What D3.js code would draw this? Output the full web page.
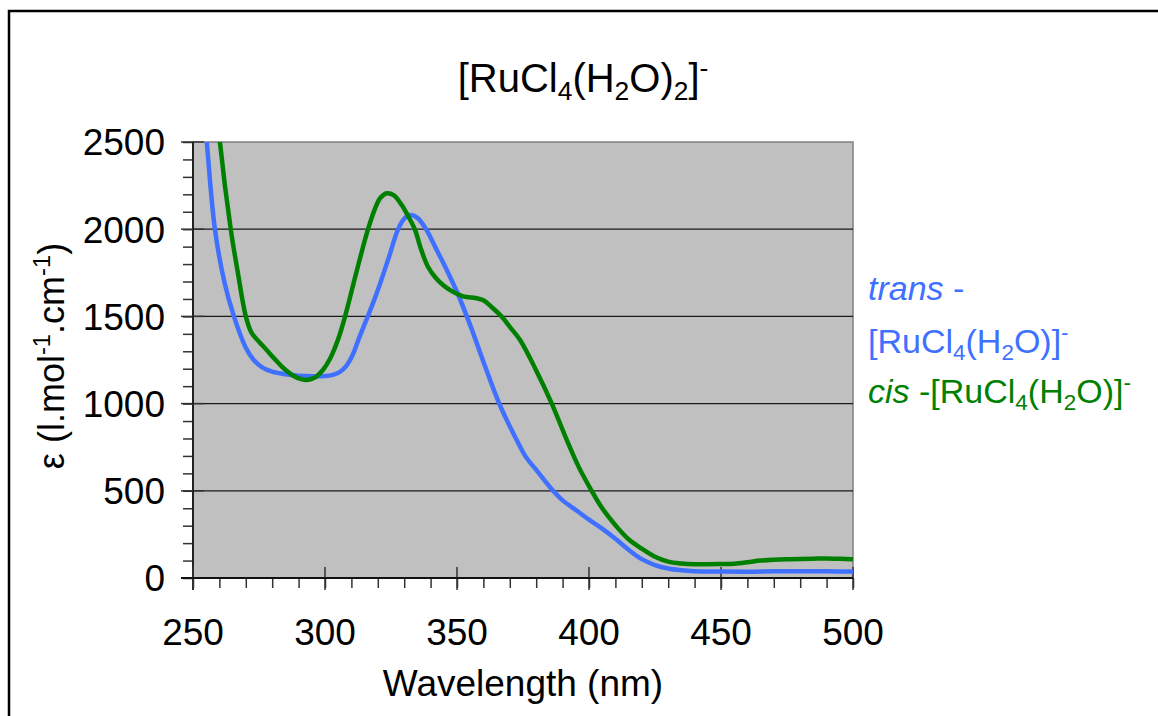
<!DOCTYPE html>
<html>
<head>
<meta charset="utf-8">
<script src="https://cdn.jsdelivr.net/npm/d3@7"></script>
<style>
  html, body { margin: 0; padding: 0; background: #fff; }
  svg { display: block; }
  text { font-family: Arial, "Liberation Sans", sans-serif; }
</style>
</head>
<body>
<svg id="chart" width="1158" height="716"></svg>
<script>
//////////
// DATA //
//////////
var transWl  = [253, 255.2, 258.3, 262, 265.5, 270, 273, 276.5, 280, 285, 290, 295, 300, 303, 305.5, 308, 310.5, 313, 317, 320, 324, 327.7, 330, 332.2, 335, 338.3, 342, 346, 350, 355, 360, 366, 372.6, 376, 380, 386.4, 390, 395, 400, 405, 410, 415, 420, 425, 430, 435, 440, 450, 460, 470, 480, 490, 500];
var transEps = [2850, 2500, 2000, 1690, 1500, 1320, 1250, 1205, 1183, 1168, 1160, 1157, 1158, 1165, 1180, 1215, 1280, 1380, 1530, 1650, 1830, 2000, 2060, 2081, 2065, 2000, 1890, 1770, 1640, 1450, 1240, 1000, 791, 696, 620, 500, 445, 390, 335, 283, 225, 162, 108, 74, 54, 44, 39, 37, 36, 38, 39, 38, 37];

var cisWl  = [258, 260.2, 264.3, 267, 270, 272.2, 275, 277.9, 281, 284.2, 288, 291, 293, 296, 299.2, 302, 305, 307.6, 312, 316.3, 319, 321, 323.4, 326, 329, 331.5, 334, 336.5, 339, 342, 344.7, 348, 352.3, 357.4, 360, 363, 366.9, 370, 373.9, 380, 385.9, 391.6, 396, 401, 405, 410.5, 415, 420, 425, 430, 435, 440, 450, 455, 460, 465, 470, 476, 485, 490, 495, 500];
var cisEps = [2900, 2500, 2000, 1750, 1500, 1405, 1355, 1307, 1255, 1204, 1160, 1140, 1135, 1148, 1193, 1260, 1370, 1500, 1760, 2000, 2120, 2180, 2206, 2195, 2140, 2075, 2000, 1880, 1785, 1720, 1680, 1645, 1615, 1604, 1592, 1555, 1500, 1440, 1365, 1190, 1000, 791, 640, 500, 400, 294, 222, 168, 122, 94, 83, 79, 80, 82, 90, 100, 105, 108, 111, 112, 110, 107];

var xTicks = [250, 300, 350, 400, 450, 500];
var yTicks = [0, 500, 1000, 1500, 2000, 2500];

/////////////////
// "CONSTANTS" //
/////////////////
var PLOT_LEFT = 193;
var PLOT_RIGHT = 853;
var PLOT_TOP = 142;
var PLOT_BOTTOM = 578;
var PLOT_FILL = "#c0c0c0";
var COLOR_TRANS = "#4070ff";
var COLOR_CIS = "#008000";
var LINE_WIDTH = 4.5;
var TICK_FONT = 37;
var LEGEND_FONT = 34;

var svg = d3.select("#chart");

var x = d3.scaleLinear().domain([250, 500]).range([PLOT_LEFT, PLOT_RIGHT]);
var y = d3.scaleLinear().domain([0, 2500]).range([PLOT_BOTTOM, PLOT_TOP]);

// writes pieces of text with sub/superscripts into a text node
var rich = function(textSel, parts, size) {
	var prevBack = 0;
	parts.forEach(function(p) {
		var ts = textSel.append("tspan").text(p.t);
		var dy = 0;
		if (p.i) ts.attr("font-style", "italic");
		if (p.s == "sub") dy = size * 0.2;
		if (p.s == "sup") dy = -size * 0.38;
		if (p.s) ts.attr("font-size", size * 0.66);
		// shifted pieces need the next one moved back to the baseline
		ts.attr("dy", dy + prevBack);
		prevBack = -dy;
	});
};

////////////
// FRAME  //
////////////
svg.append("rect")
	.attr("x", 9).attr("y", 11)
	.attr("width", 1200).attr("height", 760)
	.attr("fill", "none")
	.attr("stroke", "#000")
	.attr("stroke-width", 2.5);

// plot background
svg.append("rect")
	.attr("x", PLOT_LEFT).attr("y", PLOT_TOP)
	.attr("width", PLOT_RIGHT - PLOT_LEFT).attr("height", PLOT_BOTTOM - PLOT_TOP)
	.attr("fill", PLOT_FILL)
	.attr("stroke", "#808080")
	.attr("stroke-width", 1.5);

// grid lines
svg.append("g").selectAll("line")
	.data(yTicks.filter(function(d) { return d > 0 && d < 2500; }))
	.enter().append("line")
	.attr("x1", PLOT_LEFT).attr("x2", PLOT_RIGHT)
	.attr("y1", function(d) { return y(d); })
	.attr("y2", function(d) { return y(d); })
	.attr("stroke", "#1a1a1a")
	.attr("stroke-width", 1.3);

//////////
// AXES //
//////////
var yMinor = d3.range(0, 2501, 100);
var xMinor = d3.range(250, 501, 10);

var yAxis = svg.append("g").attr("transform", "translate(" + PLOT_LEFT + ",0)");
yAxis.call(d3.axisLeft(y).tickValues(yMinor).tickSize(10).tickFormat(""));
yAxis.select(".domain").remove();
yAxis.selectAll("line").attr("stroke", "#333").attr("stroke-width", 1.5);
// major ticks cross the axis
yAxis.selectAll(".major").data(yTicks).enter().append("line")
	.attr("x1", -12).attr("x2", 11)
	.attr("y1", function(d) { return y(d); })
	.attr("y2", function(d) { return y(d); })
	.attr("stroke", "#333").attr("stroke-width", 1.5);
yAxis.append("line")
	.attr("x1", 0).attr("x2", 0)
	.attr("y1", PLOT_TOP).attr("y2", PLOT_BOTTOM + 12)
	.attr("stroke", "#222").attr("stroke-width", 2);
yAxis.selectAll(".lab").data(yTicks).enter().append("text")
	.attr("x", -28)
	.attr("y", function(d) { return y(d); })
	.attr("dy", "0.36em")
	.attr("text-anchor", "end")
	.attr("font-size", TICK_FONT)
	.attr("fill", "#000")
	.text(function(d) { return d; });

var xAxis = svg.append("g").attr("transform", "translate(0," + PLOT_BOTTOM + ")");
xAxis.call(d3.axisBottom(x).tickValues(xMinor).tickSize(10).tickFormat(""));
xAxis.select(".domain").remove();
xAxis.selectAll("line").attr("stroke", "#333").attr("stroke-width", 1.5);
xAxis.selectAll(".major").data(xTicks).enter().append("line")
	.attr("x1", function(d) { return x(d); })
	.attr("x2", function(d) { return x(d); })
	.attr("y1", -11).attr("y2", 12)
	.attr("stroke", "#333").attr("stroke-width", 1.5);
xAxis.append("line")
	.attr("x1", PLOT_LEFT - 12).attr("x2", PLOT_RIGHT)
	.attr("y1", 0).attr("y2", 0)
	.attr("stroke", "#111").attr("stroke-width", 2.2);
xAxis.selectAll(".lab").data(xTicks).enter().append("text")
	.attr("x", function(d) { return x(d); })
	.attr("y", 67)
	.attr("text-anchor", "middle")
	.attr("font-size", TICK_FONT)
	.attr("fill", "#000")
	.text(function(d) { return d; });

// axis titles
svg.append("text")
	.attr("x", 523).attr("y", 696)
	.attr("text-anchor", "middle")
	.attr("font-size", TICK_FONT)
	.text("Wavelength (nm)");

var yTitle = svg.append("text")
	.attr("transform", "translate(64,356) rotate(-90)")
	.attr("text-anchor", "middle")
	.attr("font-size", 36);
rich(yTitle, [
	{t: "\u03b5 ("}, {t: "l.mol"}, {t: "-1", s: "sup"},
	{t: ".cm"}, {t: "-1", s: "sup"}, {t: ")"}
], 36);

// title
var title = svg.append("text")
	.attr("x", 583).attr("y", 92)
	.attr("text-anchor", "middle")
	.attr("font-size", 40);
rich(title, [
	{t: "[RuCl"}, {t: "4", s: "sub"}, {t: "(H"}, {t: "2", s: "sub"},
	{t: "O)"}, {t: "2", s: "sub"}, {t: "]"}, {t: "-", s: "sup"}
], 40);

///////////
// LINES //
///////////
svg.append("clipPath").attr("id", "plotClip")
	.append("rect")
	.attr("x", PLOT_LEFT).attr("y", PLOT_TOP)
	.attr("width", PLOT_RIGHT - PLOT_LEFT).attr("height", PLOT_BOTTOM - PLOT_TOP);

var line = d3.line()
	.x(function(d) { return x(d[0]); })
	.y(function(d) { return y(d[1]); })
	.curve(d3.curveCatmullRom.alpha(0.5));

var lines = svg.append("g").attr("clip-path", "url(#plotClip)");
lines.append("path")
	.datum(d3.zip(transWl, transEps))
	.attr("d", line)
	.attr("fill", "none")
	.attr("stroke", COLOR_TRANS)
	.attr("stroke-width", LINE_WIDTH);
lines.append("path")
	.datum(d3.zip(cisWl, cisEps))
	.attr("d", line)
	.attr("fill", "none")
	.attr("stroke", COLOR_CIS)
	.attr("stroke-width", LINE_WIDTH);

////////////
// LEGEND //
////////////
var lg1 = svg.append("text").attr("x", 868).attr("y", 300)
	.attr("font-size", LEGEND_FONT).attr("fill", COLOR_TRANS);
rich(lg1, [{t: "trans", i: true}, {t: " -"}], LEGEND_FONT);

var lg2 = svg.append("text").attr("x", 868).attr("y", 353)
	.attr("font-size", LEGEND_FONT).attr("fill", COLOR_TRANS);
rich(lg2, [
	{t: "[RuCl"}, {t: "4", s: "sub"}, {t: "(H"}, {t: "2", s: "sub"},
	{t: "O)]"}, {t: "-", s: "sup"}
], LEGEND_FONT);

var lg3 = svg.append("text").attr("x", 868).attr("y", 403)
	.attr("font-size", LEGEND_FONT).attr("fill", COLOR_CIS);
rich(lg3, [
	{t: "cis", i: true}, {t: " -[RuCl"}, {t: "4", s: "sub"}, {t: "(H"}, {t: "2", s: "sub"},
	{t: "O)]"}, {t: "-", s: "sup"}
], LEGEND_FONT);
</script>
</body>
</html>
